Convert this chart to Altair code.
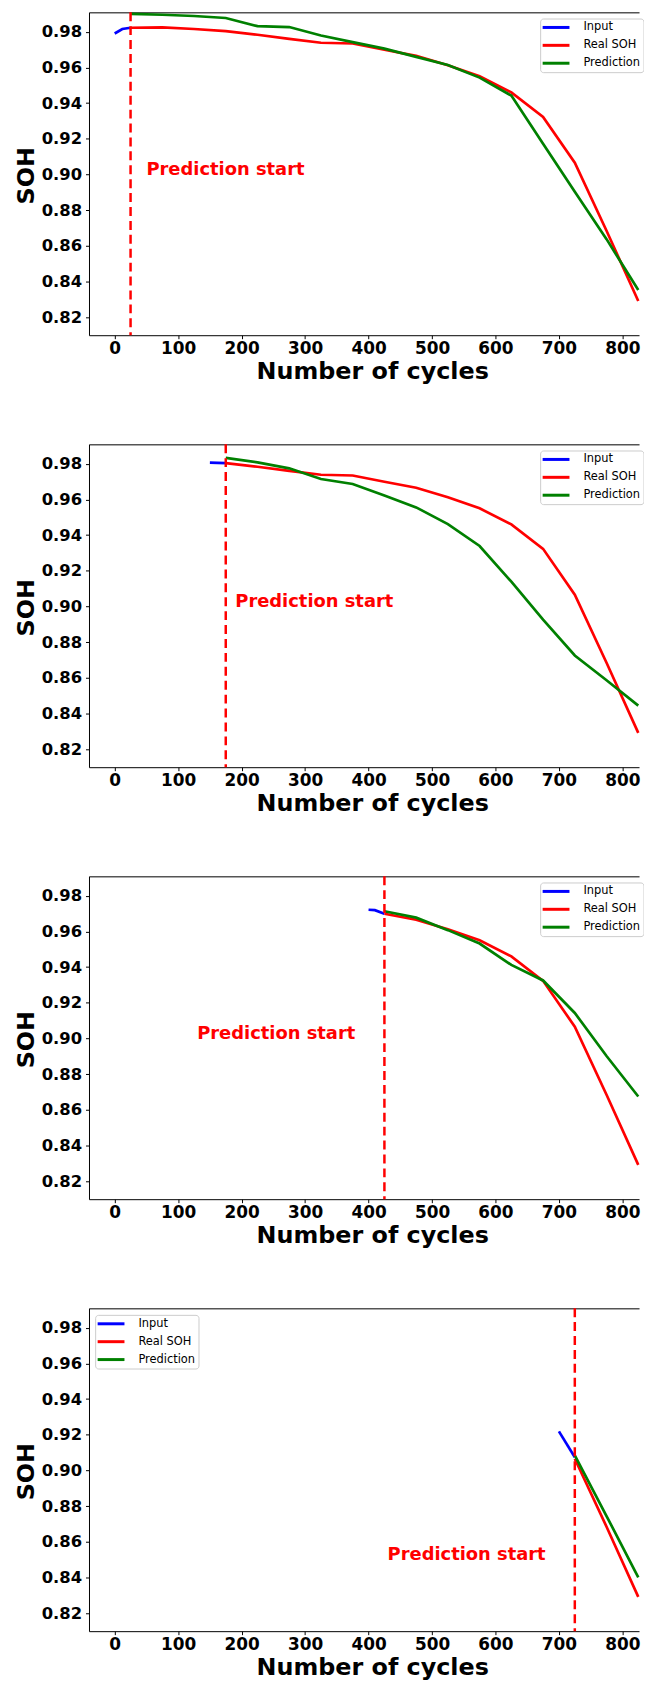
import altair as alt
import pandas as pd

# ---------------- data ----------------
real_cycles = [25, 75, 125, 175, 225, 275, 325, 375, 425, 475, 525, 575, 625, 675, 725, 775, 825]
real_soh = [0.9822, 0.9824, 0.9815, 0.9803, 0.9783, 0.9760, 0.9738, 0.9734, 0.9699,
            0.9665, 0.9612, 0.9550, 0.9460, 0.9323, 0.9066, 0.8685, 0.8292]

start_cycles = [25, 175, 425, 725]

p1_input_x = [0, 12, 25]
p1_input_y = [0.9790, 0.9815, 0.9822]
p1_pred_y = [0.9900, 0.9895, 0.9888, 0.9877, 0.9831, 0.9826, 0.9779, 0.9742, 0.9705,
             0.9659, 0.9614, 0.9543, 0.9442, 0.9173, 0.8903, 0.8638, 0.8353]

p2_input_x = [150, 162, 175]
p2_input_y = [0.9806, 0.9805, 0.9803]
p2_pred_y = [0.9833, 0.9807, 0.9774, 0.9714, 0.9686, 0.9622, 0.9555, 0.9462, 0.9339,
             0.9139, 0.8926, 0.8726, 0.8587, 0.8445]

p3_input_x = [400, 410, 425]
p3_input_y = [0.9721, 0.9719, 0.9699]
p3_pred_y = [0.9713, 0.9677, 0.9607, 0.9532, 0.9412, 0.9325, 0.9143, 0.8902, 0.8675]

p4_input_x = [700, 725]
p4_input_y = [0.9219, 0.9074]
p4_pred_y = [0.9084, 0.8745, 0.8401]

text_x = [50, 190, 130, 430]
text_y = [0.90, 0.90, 0.90, 0.85]

series_names = ["Input", "Real SOH", "Prediction"]
series_colors = ["#0000ff", "#ff0000", "#008000"]

y_ticks = [0.82, 0.84, 0.86, 0.88, 0.90, 0.92, 0.94, 0.96, 0.98]
x_ticks = [0, 100, 200, 300, 400, 500, 600, 700, 800]

# ---------------- layout / style ----------------
W = 553.5
H = 325
FONT = "DejaVu Sans"

xscale = alt.Scale(domain=[-40.5, 826.2], nice=False, zero=False)
yscale = alt.Scale(domain=[0.81, 0.9909], nice=False, zero=False)
cscale = alt.Scale(domain=series_names, range=series_colors)

bottom_axis = alt.Axis(
    orient="bottom", values=x_ticks, format="d", grid=False,
    labelFont=FONT, labelFontSize=17, labelFontWeight="bold", labelColor="black",
    labelPadding=2, tickSize=3.5, tickColor="black", domainColor="black",
    labelFlush=False, labelOverlap=False,
    title="Number of cycles", titleFont=FONT, titleFontSize=24, titleFontWeight="bold",
    titleColor="black", titleX=285, titleY=43.3, titleBaseline="alphabetic",
    titleAlign="center",
)
top_axis = alt.Axis(
    orient="top", labels=False, ticks=False, grid=False, title=None,
    domainColor="#555555", domainWidth=1.4,
    labelPadding=0, tickSize=0, minExtent=0, maxExtent=0, titlePadding=0,
)
left_axis = alt.Axis(
    orient="left", values=y_ticks, format=".2f", grid=False,
    labelFont=FONT, labelFontSize=16.5, labelFontWeight="bold", labelColor="black",
    labelPadding=4, tickSize=3.5, tickColor="black", domainColor="black",
    labelFlush=False, labelOverlap=False,
    title="SOH", titleFont=FONT, titleFontSize=24, titleFontWeight="bold", titleColor="black",
    titleAngle=270, titleX=-56, titleY=164, titleBaseline="alphabetic", titleAlign="center",
)


def make_legend(lx, ly):
    return alt.Legend(
        orient="none", legendX=lx, legendY=ly, title=None,
        symbolType="M-2.7,0H2.7", symbolSize=100, symbolStrokeWidth=3,
        symbolOffset=7, labelOffset=21,
        labelFont=FONT, labelFontSize=11.5, labelColor="black",
        fillColor="white", strokeColor="#cccccc", cornerRadius=3,
        padding=2.5, rowPadding=5,
    )


def panel(inp_x, inp_y, pred_y, start, tx, ty, legend):
    rows = []
    for x, y in zip(inp_x, inp_y):
        rows.append({"cycle": x, "soh": y, "series": "Input"})
    for x, y in zip(real_cycles, real_soh):
        if x >= start:
            rows.append({"cycle": x, "soh": y, "series": "Real SOH"})
    pred_x = [c for c in real_cycles if c >= start]
    for x, y in zip(pred_x, pred_y):
        rows.append({"cycle": x, "soh": y, "series": "Prediction"})
    df = pd.DataFrame(rows)

    lines = alt.Chart(df).mark_line(strokeWidth=2.7).encode(
        x=alt.X("cycle:Q", scale=xscale, axis=bottom_axis),
        y=alt.Y("soh:Q", scale=yscale, axis=left_axis),
        color=alt.Color("series:N", scale=cscale, legend=legend),
    )
    rule = alt.Chart(pd.DataFrame({"cycle": [start]})).mark_rule(
        color="#ff0000", strokeDash=[9, 5], strokeWidth=2.5
    ).encode(x=alt.X("cycle:Q", scale=xscale, axis=top_axis))
    text = alt.Chart(
        pd.DataFrame({"cycle": [tx], "soh": [ty], "label": ["Prediction start"]})
    ).mark_text(
        align="left", baseline="alphabetic", font=FONT, fontSize=18,
        fontWeight="bold", color="#ff0000",
    ).encode(
        x=alt.X("cycle:Q", scale=xscale, axis=None),
        y=alt.Y("soh:Q", scale=yscale, axis=left_axis),
        text="label:N",
    )
    return alt.layer(lines, rule, text).resolve_axis(x="independent").properties(
        width=W, height=H
    )


panels = [
    panel(p1_input_x, p1_input_y, p1_pred_y, start_cycles[0], text_x[0], text_y[0], make_legend(454, 6.3)),
    panel(p2_input_x, p2_input_y, p2_pred_y, start_cycles[1], text_x[1], text_y[1], make_legend(454, 6.3)),
    panel(p3_input_x, p3_input_y, p3_pred_y, start_cycles[2], text_x[2], text_y[2], make_legend(454, 6.3)),
    panel(p4_input_x, p4_input_y, p4_pred_y, start_cycles[3], text_x[3], text_y[3], make_legend(6.2, 6.7)),
]


def build(pad):
    return (
        alt.vconcat(*panels, spacing=109.7, bounds="flush")
        .resolve_legend(color="independent")
        .properties(padding=pad, background="white")
        .configure_view(stroke=None)
    )


try:
    chart = build({"left": 6.5, "top": -5, "right": 0, "bottom": 0})
    chart.to_dict()
except Exception:
    chart = build({"left": 6.5, "top": 0, "right": 0, "bottom": 0})

chart.save("out.html", embed_options={"renderer": "svg", "actions": False})
